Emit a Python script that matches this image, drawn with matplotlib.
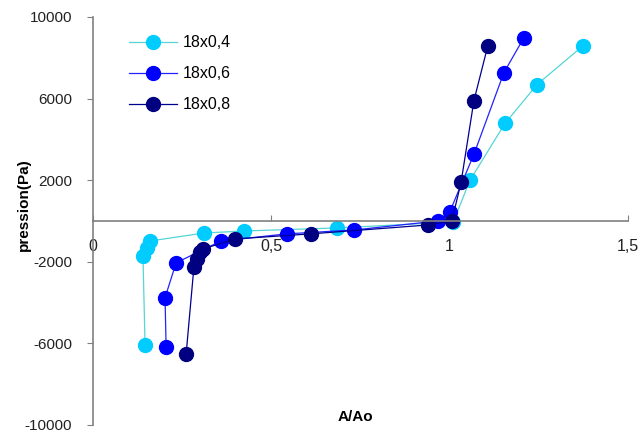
import numpy as np
import matplotlib
matplotlib.use('Agg')
import matplotlib.pyplot as plt

plt.rcParams['font.family'] = ['Liberation Sans', 'DejaVu Sans']
plt.rcParams['axes.unicode_minus'] = False

# data (A/Ao, pression in Pa)
x_04 = [0.146, 0.140, 0.151, 0.160, 0.311, 0.423, 0.684, 1.010, 1.057, 1.155, 1.245, 1.374]
y_04 = [-6100, -1700, -1320, -980, -590, -490, -340, -50, 2000, 4780, 6690, 8590]

x_06 = [0.205, 0.202, 0.233, 0.359, 0.544, 0.732, 0.967, 1.000, 1.068, 1.152, 1.208]
y_06 = [-6200, -3760, -2050, -980, -630, -440, 0, 440, 3270, 7270, 8980]

x_08 = [0.261, 0.283, 0.291, 0.300, 0.308, 0.398, 0.611, 0.939, 1.006, 1.032, 1.068, 1.107]
y_08 = [-6540, -2250, -1850, -1520, -1370, -880, -630, -195, 0, 1900, 5900, 8590]

labels = ['18x0,4', '18x0,6', '18x0,8']
xticks = [0, 0.5, 1, 1.5]
xtick_labels = ['0', '0,5', '1', '1,5']
yticks = [-10000, -6000, -2000, 2000, 6000, 10000]

fig = plt.figure(figsize=(6.44, 4.34), dpi=100)
ax = fig.add_axes([93/644, 1-425/434, 535/644, 408/434])

ax.plot(x_04, y_04, '-o', color='#55D5D5', mfc='#00CCFF', mec='#00CCFF',
        lw=0.9, markersize=10, label=labels[0])
ax.plot(x_06, y_06, '-o', color='#2222FF', mfc='#0000FF', mec='#0000FF',
        lw=0.9, markersize=10, label=labels[1])
ax.plot(x_08, y_08, '-o', color='#000090', mfc='#000080', mec='#000080',
        lw=0.9, markersize=10, label=labels[2])

ax.set_xlim(0, 1.5)
ax.set_ylim(-10000, 10000)

ax.spines['top'].set_visible(False)
ax.spines['right'].set_visible(False)
ax.spines['bottom'].set_position(('data', 0))
for s in ['left', 'bottom']:
    ax.spines[s].set_color('#808080')
    ax.spines[s].set_linewidth(1.2)

ax.set_xticks(xticks)
ax.set_xticklabels(xtick_labels)
ax.set_yticks(yticks)
ax.tick_params(axis='x', direction='in', length=4, color='#808080',
               labelsize=11.5, pad=13, colors='#222222')
ax.tick_params(axis='y', direction='out', length=4, color='#808080',
               labelsize=11, pad=11, colors='#222222')

ax.set_xlabel('A/Ao', fontweight='bold', fontsize=11)
ax.xaxis.set_label_coords(0.49, 0.02)
ax.xaxis.label.set_va('center')
ax.set_ylabel('pression(Pa)', fontweight='bold', fontsize=11)
ax.yaxis.set_label_coords(-0.129, 0.54)
ax.yaxis.label.set_va('center')

ax.legend(loc='upper left', bbox_to_anchor=(0.04, 0.99), frameon=False,
          fontsize=11.5, handlelength=3.0, labelspacing=1.0, handletextpad=0.35)

fig.savefig('out.png', dpi=100)
